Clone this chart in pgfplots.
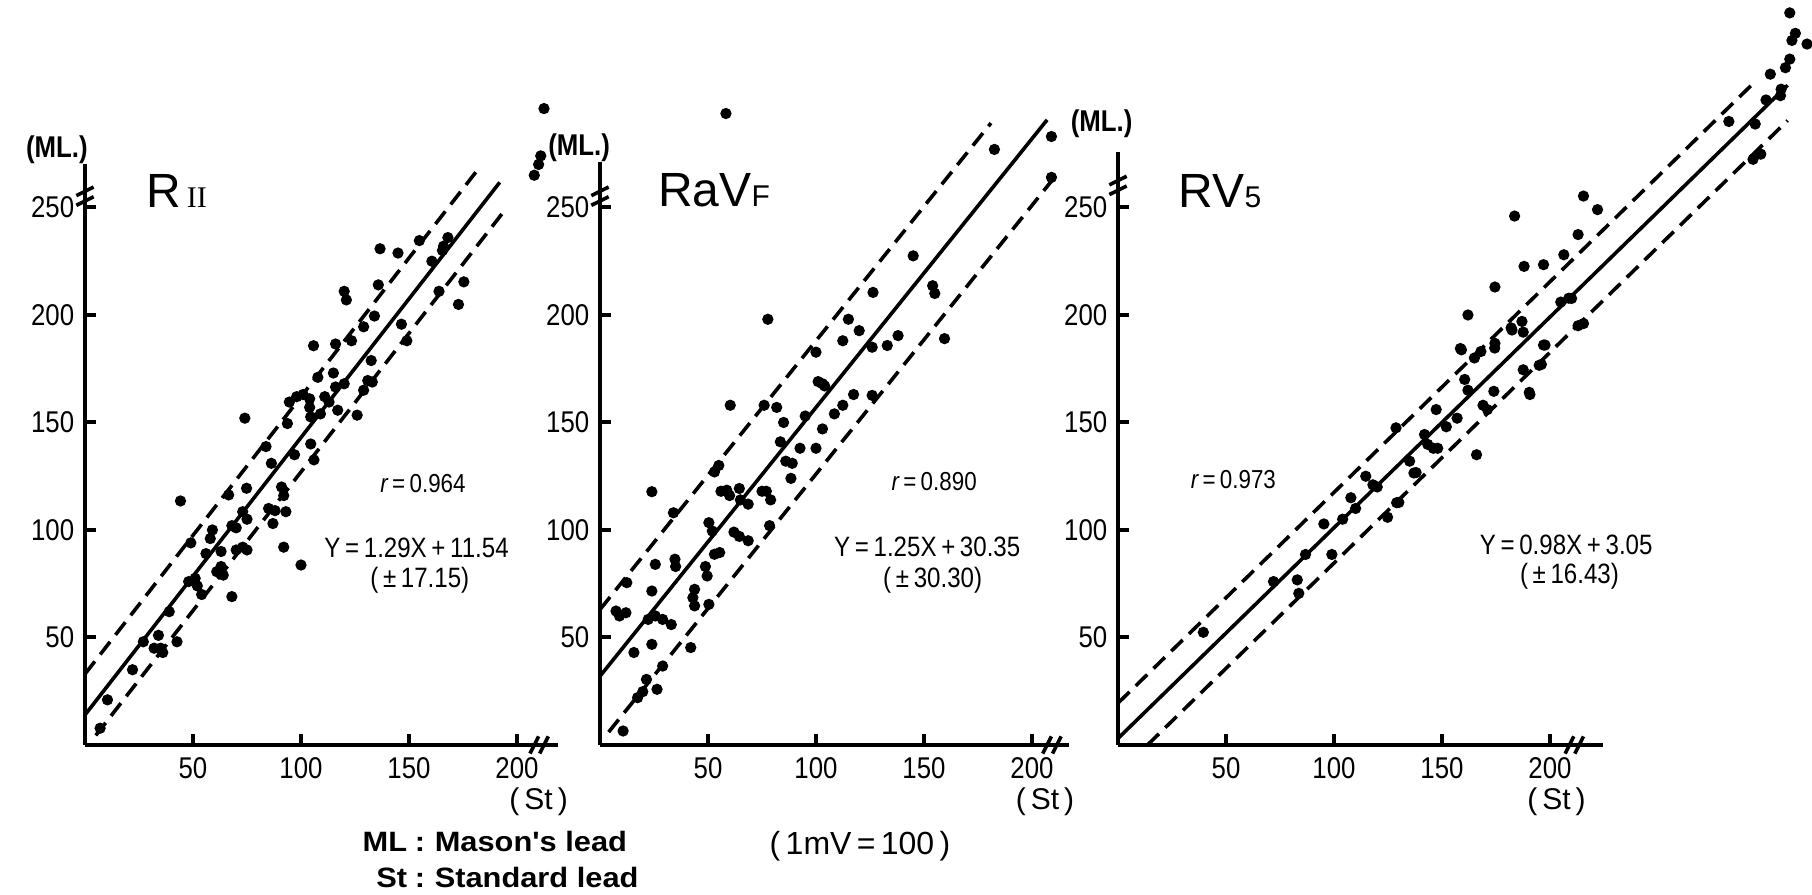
\documentclass[border=0pt]{standalone}
\usepackage{pgfplots}
\pgfplotsset{compat=1.18}
\usepackage{fontspec}
\setmainfont{Liberation Sans}
\newfontfamily\nf[FakeStretch=0.86]{Liberation Sans}
\newfontfamily\wf[FakeStretch=1.1]{Liberation Sans}
\newfontfamily\serif{Liberation Serif}

\pgfplotsset{
  panel/.style={
    anchor=south west, x=0.54pt, y=0.5375pt,
    xmin=0, xmax=222, ymin=0, ymax=270,
    axis lines=left, axis line style={-, line width=1.1pt},
    clip=false,
    xtick={50,100,150,200}, ytick={50,100,150,200,250},
    tick align=inside, major tick length=2.8pt,
    every tick/.style={black, line width=1pt},
    tick label style={font=\nf\fontsize{7.5}{8}\selectfont, inner sep=1pt},
    /pgf/number format/assume math mode=true,
    xticklabel style={yshift=-2pt},
    yticklabel style={xshift=-1.5pt},
  },
  reg/.style={black, line width=0.9pt},
  conf/.style={black, line width=0.9pt, dash pattern=on 4pt off 2.2pt},
  pts/.style={only marks, mark=*, mark size=1.2pt, black},
}
\tikzset{
  eq/.style={font=\nf\fontsize{7}{8}\selectfont, inner sep=0},
  rr/.style={font=\nf\fontsize{6.5}{7}\selectfont, inner sep=0},
  ml/.style={font=\nf\bfseries\fontsize{7.5}{8}\selectfont, inner sep=0},
  st/.style={font=\fontsize{7.5}{8}\selectfont, inner sep=0},
  ttl/.style={font=\fontsize{12}{13}\selectfont, inner sep=0, anchor=base west},
  brk/.style={black, line width=0.9pt},
}

\begin{document}
\begin{tikzpicture}
\useasboundingbox (0,0) rectangle (453pt,223.75pt);

% ---------------- Panel 1 : R II ----------------
\begin{axis}[panel, at={(21.25pt,37.5pt)}, ymax=270, xmax=219]
\addplot[conf] coordinates {(0,33) (183,269.07)};
\addplot[reg] coordinates {(0,14) (192,261.68)};
\addplot[conf] coordinates {(5,4.45) (195,249.55)};
\addplot[pts] coordinates {
(212.5,296) (208,265) (210,270) (211,274)
(165.5,230) (160.6,225) (166,232) (168,236)
(154.8,234.6) (136.6,230.8) (144.9,228.8)
(175.4,215.4) (172.9,204.9) (163.9,211) (135.8,214)
(120,211) (121,207)
(134,199.5) (129,194.5) (146.5,195.7) (149,188)
(123.4,188) (116,186.5) (105.8,185.7)
(132.5,178.8) (107.8,171) (115,173) (116,166.5) (120,168)
(130.9,169.5) (133,168.8) (129,165) (111,162) (113,159.5)
(98,162) (101,163) (104,161) (94.6,159.5) (104,157) (109,154) (117,155.7) (126,153.4)
(74,152) (93.7,149.5) (104.5,152.6)
(83.8,138.8) (86.3,131) (97,135) (104.5,140) (106,132.6)
(44.2,113.5) (66.5,116.3) (74.8,119.4) (91,120) (92,116) (93,108.5) (87,103) (85,110) (88,109)
(68,102) (70,101) (73,108.5) (75,105) (59,100) (58,96) (92,92) (100,83.7)
(73,92) (75,90.7) (70,90.7) (56,89) (63,90) (63,83) (61,80.6) (64,79) (68,69)
(51,77.5) (52,74) (54,70) (48,76) (39,62) (49,94)
(34,51) (35,45) (36,43) (32,45) (42.6,48) (27,48) (22,35) (10.4,21) (7,7.8)
};
\draw[brk] (axis cs:206,-4) -- (axis cs:210,4);
\draw[brk] (axis cs:210.5,-4) -- (axis cs:214.5,4);
\draw[brk] (axis cs:-4,251) -- (axis cs:4,255);
\draw[brk] (axis cs:-4,255.5) -- (axis cs:4,259.5);
\node[ml] at (axis cs:-13,277) {(ML.)};
\node[st] at (axis cs:210,-26.5) {(\,St\,)};
\node[ttl] at (axis cs:28,250) {R\hspace{1.5pt}{\serif\fontsize{7.5}{8}\selectfont II}};
\node[rr] at (axis cs:156.5,121.5) {{\itshape r}\,=\,0.964};
\node[eq] at (axis cs:153.5,91.6) {Y\,=\,1.29X\,+\,11.54};
\node[eq] at (axis cs:155,76.7) {(\,±\,17.15)};
\end{axis}

% ---------------- Panel 2 : RaVF ----------------
\begin{axis}[panel, at={(150pt,37.5pt)}, ymax=271, xmax=217]
\addplot[conf] coordinates {(0,63) (181,289.25)};
\addplot[reg] coordinates {(0,32) (207,290.75)};
\addplot[conf] coordinates {(4,6) (211.6,265.5)};
\addplot[pts] coordinates {
(58.3,293.7) (182.6,277) (209,283) (209,264)
(145,227.5) (154,213.6) (155,210) (126.4,210.5) (115,198) (120,192.7) (112.4,188)
(138,190.4) (133,185.8) (126,185) (159.5,189) (77.7,198) (100,182.7)
(101,169) (103,168) (104,167)
(81.8,157) (76,158) (60.3,158) (85,150) (95,153) (103,147) (108.5,154) (112.4,158) (117.4,163) (126,162.6)
(83.5,141) (92.6,138) (100,138) (86,132) (89,131) (88.4,124)
(24,117.8) (53,127) (55,130) (58.7,118.5) (64.5,119.3) (75,118)
(34,108) (56,118) (60,116) (65,114) (68.6,112) (77,118) (79,114)
(50.4,103.4) (52,99.5) (62,99) (64.5,97) (68.6,95) (78.5,102)
(55.4,89.5) (53,88.7) (48.8,83) (49.6,78.6) (43.8,72.4) (43,68.5) (43.8,64.7) (50.4,65.4)
(34.7,86.4) (35,83) (25.6,84) (24,71.6) (12.4,75.5) (7.4,62.3) (12,61.5) (9,60)
(22.3,58.4) (25.6,60) (29,58.4) (33,56) (24,46.8) (15.7,43) (42,45.3)
(21.5,30.5) (26.4,25.9) (29,36.7) (17.4,22) (19.8,24.8) (10.7,6.5)
};
\draw[brk] (axis cs:205,-4) -- (axis cs:209,4);
\draw[brk] (axis cs:209.5,-4) -- (axis cs:213.5,4);
\draw[brk] (axis cs:-4,251) -- (axis cs:4,255);
\draw[brk] (axis cs:-4,255.5) -- (axis cs:4,259.5);
\node[ml] at (axis cs:-9.7,277.7) {(ML.)};
\node[st] at (axis cs:206,-26.5) {(\,St\,)};
\node[ttl] at (axis cs:26.6,250.4) {RaV{\fontsize{7.5}{8}\selectfont F}};
\node[rr] at (axis cs:154.7,122.5) {{\itshape r}\,=\,0.890};
\node[eq] at (axis cs:151.5,92.2) {Y\,=\,1.25X\,+\,30.35};
\node[eq] at (axis cs:154,76.7) {(\,±\,30.30)};
\end{axis}

% ---------------- Panel 3 : RV5 ----------------
\begin{axis}[panel, at={(279.5pt,37.5pt)}, ymax=276, xmax=224.5]
\addplot[conf] coordinates {(0,19.48) (293,306.62)};
\addplot[reg] coordinates {(0,3.05) (310,306.85)};
\addplot[conf] coordinates {(13.65,0) (310,290.42)};
\addplot[pts] coordinates {
(39.5,52.4) (72,76) (83,76.8) (83.7,70.5) (86.8,88.6) (99,88.6) (95.3,102.8) (107.8,115)
(114.7,125) (118,121) (128.7,147.5) (138,126.7) (130,112.8) (124.8,105.9) (143.4,139.8)
(148,138) (141.9,144.4) (147.3,156) (157,152) (166,135) (169,158) (171,156) (174,164.5)
(190.7,163) (160.5,170) (162,165) (159,183.8) (162,200) (165,180) (168,183) (174.4,184.6)
(182,194) (187.6,192) (187.6,174.5) (196,177) (197.7,186) (205,206) (210,207.7) (213,195)
(183.6,246) (215.5,255.3) (222,249) (213,237.4) (206.4,228) (188,222.6) (197,223.4)
(174.5,213) (208.7,207.8) (187,197) (182.4,193) (158.5,184.4) (174.5,186.8) (197,186)
(195,176.6) (215.5,196) (190.4,164)
(282.8,290) (295,288.8) (297.6,274.8) (294,272.4) (300,300) (306.7,302) (302,312)
(309,315) (311,319) (312,327.7) (313.6,331) (311,340.5) (319,326) (307,305)
(129,112.7) (137,126.5) (120,120) (146,138) (152,148) (135,132) (110,110) (104,105)
};
\draw[brk] (axis cs:207,-4) -- (axis cs:211,4);
\draw[brk] (axis cs:211.5,-4) -- (axis cs:215.5,4);
\draw[brk] (axis cs:-4,256) -- (axis cs:4,260);
\draw[brk] (axis cs:-4,260.5) -- (axis cs:4,264.5);
\node[ml] at (axis cs:-7.6,289) {(ML.)};
\node[st] at (axis cs:203,-26.5) {(\,St\,)};
\node[ttl] at (axis cs:27.8,250) {RV{\fontsize{7.5}{8}\selectfont 5}};
\node[rr] at (axis cs:53.4,123.3) {{\itshape r}\,=\,0.973};
\node[eq] at (axis cs:207.5,93) {Y\,=\,0.98X\,+\,3.05};
\node[eq] at (axis cs:209,78.3) {(\,±\,16.43)};
\end{axis}

% ---------------- footnotes ----------------
\node[anchor=base east, inner sep=0, font=\wf\bfseries\fontsize{7}{8}\selectfont] at (102pt,10.8pt) {ML};
\node[anchor=base, inner sep=0, font=\wf\bfseries\fontsize{7}{8}\selectfont] at (105pt,10.8pt) {:};
\node[anchor=base west, inner sep=0, font=\wf\bfseries\fontsize{7}{8}\selectfont] at (108.5pt,10.8pt) {Mason's lead};
\node[anchor=base east, inner sep=0, font=\wf\bfseries\fontsize{7}{8}\selectfont] at (102pt,1.8pt) {St};
\node[anchor=base, inner sep=0, font=\wf\bfseries\fontsize{7}{8}\selectfont] at (105pt,1.8pt) {:};
\node[anchor=base west, inner sep=0, font=\wf\bfseries\fontsize{7}{8}\selectfont] at (108.5pt,1.8pt) {Standard lead};
\node[anchor=base, inner sep=0, font=\fontsize{8}{9}\selectfont] at (215pt,10pt) {(\,1mV\,=\,100\,)};
\end{tikzpicture}
\end{document}
